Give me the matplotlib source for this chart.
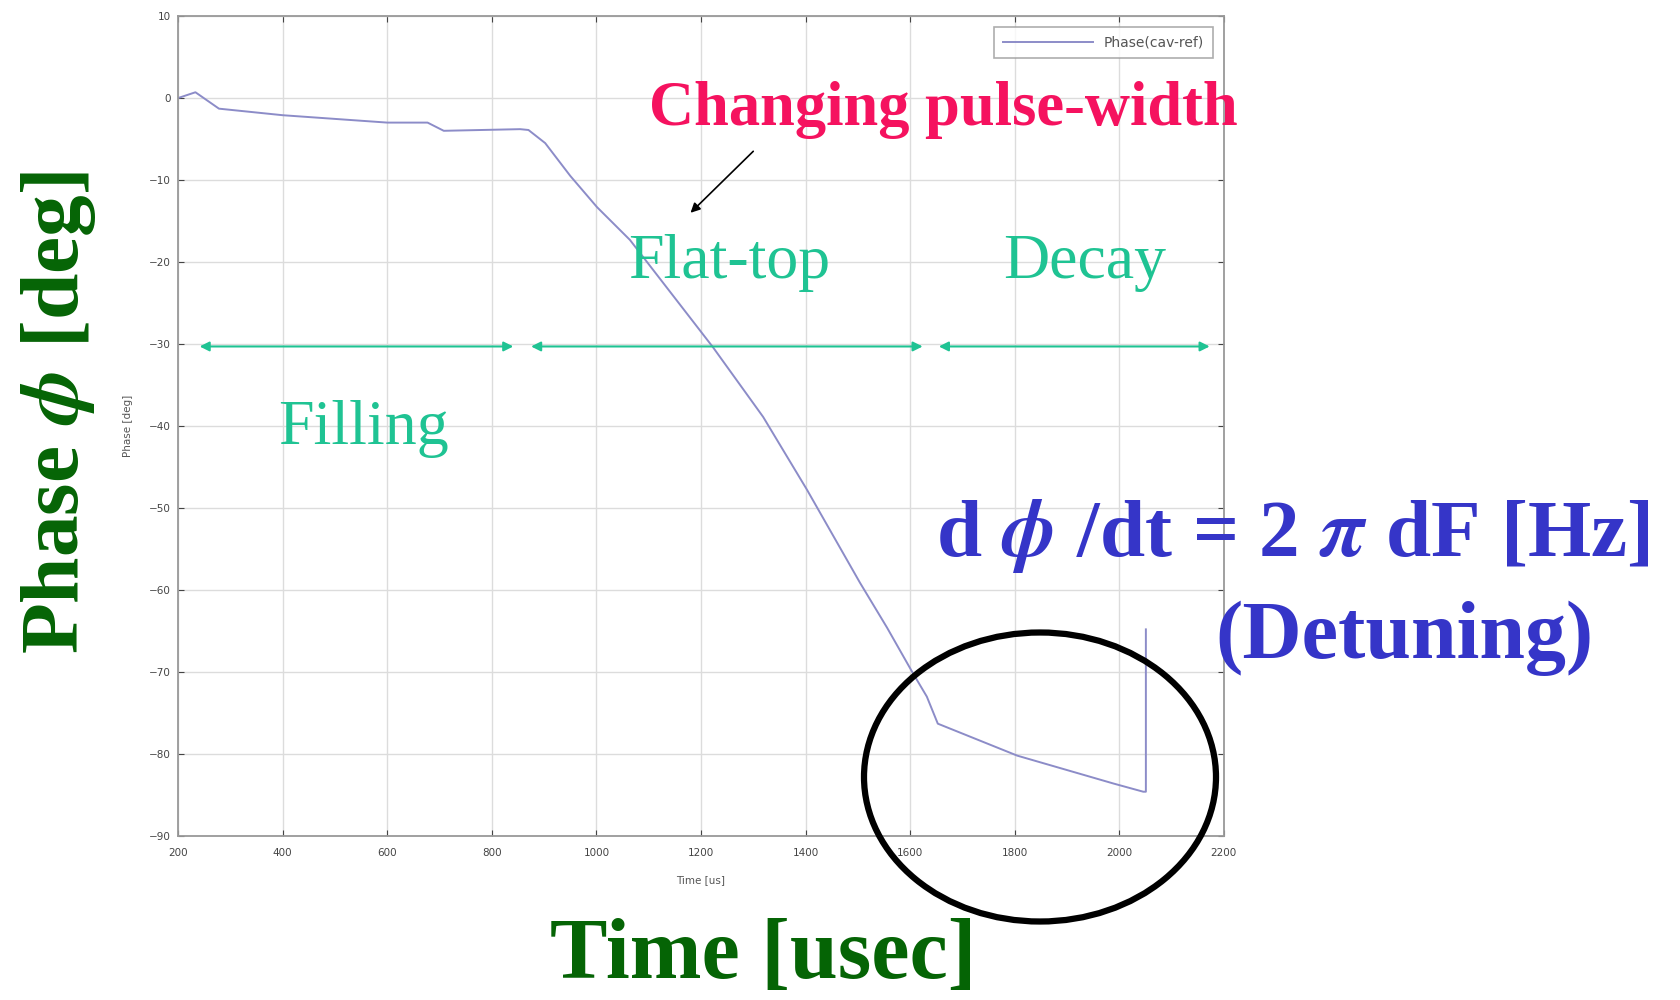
import matplotlib
matplotlib.use("Agg")
import matplotlib.pyplot as plt
from matplotlib.patches import Ellipse

plt.rcParams["mathtext.fontset"] = "stix"

# Cavity phase relative to reference over one RF pulse
time_us = [200, 233, 278, 400, 600, 677, 708, 854, 870, 902, 950, 1001, 1064,
           1223, 1319, 1403, 1504, 1556, 1605, 1632, 1653, 1805, 1989, 2046,
           2051, 2051]
phase_deg = [0.0, 0.7, -1.3, -2.1, -3.0, -3.0, -4.0, -3.8, -3.9, -5.5, -9.5,
             -13.3, -17.3, -30.4, -38.9, -47.8, -59.1, -64.6, -70.1, -73.0,
             -76.3, -80.2, -83.6, -84.6, -84.6, -64.8]

x_ticks = [200, 400, 600, 800, 1000, 1200, 1400, 1600, 1800, 2000, 2200]
y_ticks = [10, 0, -10, -20, -30, -40, -50, -60, -70, -80, -90]

# Region spans (start, end) in time for the pulse phases
region_names = ["Filling", "Flat-top", "Decay"]
region_spans = [(241, 841), (875, 1624), (1655, 2173)]
span_level = -30.3

serif = ["Liberation Serif", "DejaVu Serif"]
teal = "#1fc393"
dark_green = "#056405"
blue = "#3535c8"

fig = plt.figure(figsize=(16.81, 10.0), dpi=100)
ax = fig.add_axes([0.106, 0.164, 0.622, 0.820])

ax.plot(time_us, phase_deg, color="#8c8cc8", lw=1.4, label="Phase(cav-ref)")
ax.set_xlim(200, 2200)
ax.set_ylim(-90, 10)
ax.set_xticks(x_ticks)
ax.set_yticks(y_ticks)
ax.tick_params(labelsize=7.5, colors="#444444", length=4, direction="in",
               top=True, right=True)
ax.tick_params(axis="x", pad=9)
ax.tick_params(axis="y", pad=5)
ax.grid(True, color="#dcdcdc", lw=1.0)
for s in ax.spines.values():
    s.set_color("#999999")
    s.set_linewidth(1.3)
ax.set_xlabel("Time [us]", fontsize=7.5, color="#555555", labelpad=12)
ax.set_ylabel("Phase [deg]", fontsize=7.5, color="#555555", labelpad=12)
leg = ax.legend(loc="upper right", fontsize=10, frameon=True, fancybox=False,
                handlelength=6.5, borderpad=0.6, borderaxespad=0.8)
leg.get_frame().set_edgecolor("#999999")
leg.get_frame().set_linewidth(1.2)
for t in leg.get_texts():
    t.set_color("#555555")

# Double-headed arrows marking the pulse phases
for (a, b) in region_spans:
    ax.annotate("", xy=(a, span_level), xytext=(b, span_level),
                arrowprops=dict(arrowstyle="<|-|>", color=teal, lw=1.5,
                                mutation_scale=14, shrinkA=0, shrinkB=0))

fig.text(364 / 1681, 1 - 429 / 1000, region_names[0], family=serif,
         fontsize=46, color=teal, ha="center", va="center")
fig.text(729 / 1681, 1 - 263 / 1000, region_names[1], family=serif,
         fontsize=46, color=teal, ha="center", va="center")
fig.text(1085 / 1681, 1 - 263 / 1000, region_names[2], family=serif,
         fontsize=46, color=teal, ha="center", va="center")

fig.text(943 / 1681, 1 - 110 / 1000, "Changing pulse-width", family=serif,
         fontsize=45, fontweight="bold", color="#f5125f", ha="center", va="center")
ax.annotate("", xy=(1180, -14), xytext=(1300, -6.5),
            arrowprops=dict(arrowstyle="-|>", color="black", lw=1.2,
                            mutation_scale=14, shrinkA=0, shrinkB=0))

fig.text(1293 / 1681, 1 - 536 / 1000,
         r"d $\boldsymbol{\phi}$ /dt = 2 $\boldsymbol{\pi}$ dF [Hz]",
         family=serif, fontsize=58.5, fontweight="bold", color=blue,
         ha="center", va="center")
fig.text(1404 / 1681, 1 - 638 / 1000, "(Detuning)", family=serif,
         fontsize=59, fontweight="bold", color=blue, ha="center", va="center")

fig.text(59 / 1681, 1 - 413 / 1000, r"Phase $\boldsymbol{\phi}$ [deg]",
         family=serif, fontsize=60, fontweight="bold", color=dark_green,
         ha="center", va="center", rotation=90)
fig.text(763 / 1681, 1 - 957 / 1000, "Time [usec]", family=serif,
         fontsize=62, fontweight="bold", color=dark_green, ha="center",
         va="center")

fig.patches.append(Ellipse((1040 / 1681, 1 - 777 / 1000), 352 / 1681, 289 / 1000,
                           transform=fig.transFigure, fill=False,
                           edgecolor="black", lw=4.5))

fig.savefig("out.png", dpi=100)
